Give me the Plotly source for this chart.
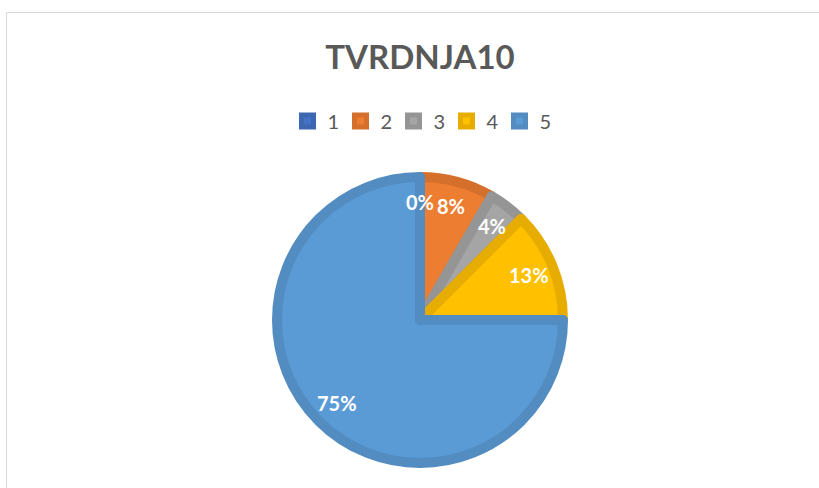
import math
import plotly.graph_objects as go

# Chart data
categories = ["1", "2", "3", "4", "5"]
counts = [0, 2, 1, 3, 18]

FILL_COLORS = ["#4472C4", "#ED7D31", "#A5A5A5", "#FFC000", "#5B9BD5"]
EDGE_COLORS = ["#3E67B1", "#D5702C", "#959595", "#E6AD00", "#528CC0"]
TEXT_GREY = "#595959"
FONT = "Lato"

W, H = 819, 488
CX, CY, R = 420, 320, 143      # pie centre / radius in px (stroke adds 5px)
LABEL_R = 118                  # radius of the percentage labels

# label positions follow the slice mid-angles (clockwise from 12 o'clock)
total = sum(counts)
labels = []
cum = 0
for v in counts:
    theta = 2 * math.pi * (cum + v / 2) / total
    labels.append(dict(
        x=LABEL_R * math.sin(theta), y=LABEL_R * math.cos(theta),
        xref="x", yref="y",
        text=f"<b>{round(100 * v / total + 1e-9):.0f}%</b>",
        showarrow=False,
        font=dict(family=FONT, size=20, color="white"),
    ))
    cum += v

fig = go.Figure()
fig.add_trace(go.Pie(
    labels=categories,
    values=counts,
    sort=False,
    direction="clockwise",
    rotation=0,
    marker=dict(colors=FILL_COLORS, line=dict(color=EDGE_COLORS, width=10)),
    textinfo="none",
    domain=dict(x=[(CX - R) / W, (CX + R) / W], y=[1 - (CY + R) / H, 1 - (CY - R) / H]),
    hoverinfo="label+value+percent",
))

fig.update_layout(
    width=W,
    height=H,
    margin=dict(l=0, r=0, t=0, b=0),
    paper_bgcolor="white",
    plot_bgcolor="rgba(0,0,0,0)",
    xaxis=dict(range=[-CX, W - CX], visible=False, fixedrange=True),
    yaxis=dict(range=[-(H - CY), CY], visible=False, fixedrange=True),
    annotations=labels,
    title=dict(
        text="<b>TVRDNJA10</b>",
        x=CX / W, xanchor="center",
        y=1 - 57 / H, yanchor="middle",
        font=dict(family=FONT, size=33, color=TEXT_GREY),
    ),
    legend=dict(
        orientation="h",
        x=CX / W, xanchor="center",
        y=1 - 121 / H, yanchor="middle",
        font=dict(family=FONT, size=20, color=TEXT_GREY),
        traceorder="normal",
        itemwidth=30,
        entrywidth=8,
        entrywidthmode="pixels",
    ),
    shapes=[dict(
        type="rect", xref="paper", yref="paper",
        x0=6.5 / W, x1=1.05, y0=-0.05, y1=1 - 12.5 / H,
        line=dict(color="#D9D9D9", width=1),
    )],
)

fig.write_html("out.html", config={"displayModeBar": False},
               post_script="document.body.style.margin='0';")
